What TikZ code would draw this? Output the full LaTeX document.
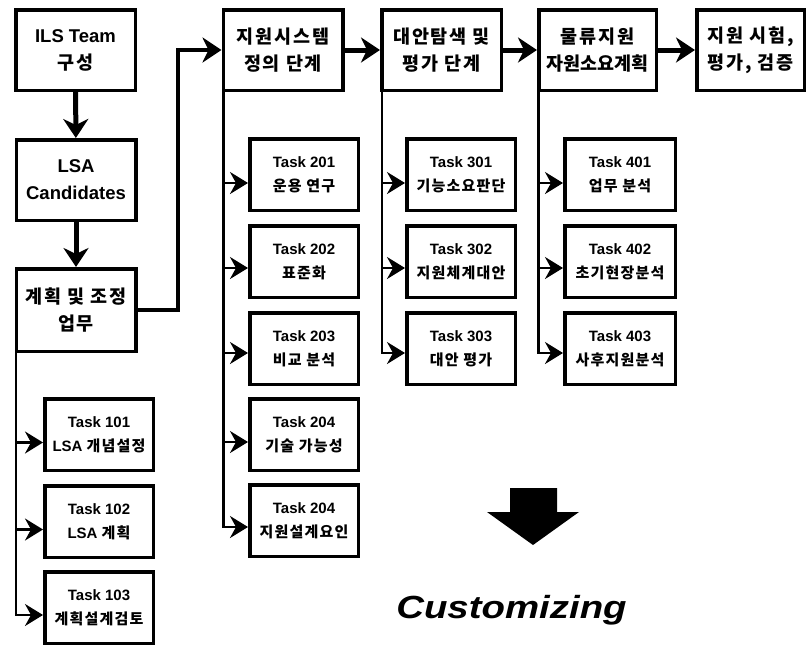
\documentclass[tikz,border=0pt]{standalone}
\usepackage{fontspec}
\setmainfont{Liberation Sans}
\newfontfamily\kr{Noto Sans CJK KR}[LetterSpace=10]
\newfontfamily\krt{Noto Sans CJK KR}[LetterSpace=0]
\newfontfamily\krs{Noto Sans CJK KR}[LetterSpace=8]
\usetikzlibrary{arrows.meta,calc}
\begin{document}
\begin{tikzpicture}[x=1pt,y=-1pt,
  box/.style={draw, line width=3.5pt, minimum width=119.5pt, minimum height=80.5pt, align=center, inner sep=0pt,
    font=\fontsize{18.5}{27}\selectfont\bfseries},
  task/.style={draw, line width=3.5pt, minimum width=108.5pt, minimum height=71.5pt, align=center, inner sep=0pt,
    font=\fontsize{15}{24}\selectfont\bfseries},
  thick arrow/.style={line width=5pt, -{Stealth[length=19pt,width=25pt,inset=6pt]}},
  link/.style={line width=4pt, -{Stealth[length=19pt,width=25pt,inset=6pt]}},
  branch/.style={line width=2.2pt, -{Stealth[length=18pt,width=22pt,inset=6pt]}}
]
\useasboundingbox (0,0) rectangle (807,651);

% top / left boxes
\node[box] (ils) at (75.5,50) {ILS Team\\{\kr 구성}};
\node[box] (lsa) at (76,180) {LSA\\Candidates};
\node[box, minimum height=82.5pt] (plan) at (76,310) {{\kr 계획 및 조정}\\{\kr 업무}};
\node[box] (sys) at (283,50) {{\kr 지원시스템}\\{\kr 정의 단계}};
\node[box] (alt) at (441.5,50) {{\kr 대안탐색 및}\\{\kr 평가 단계}};
\node[box, minimum width=117.5pt] (log) at (597.5,50) {{\kr 물류지원}\\{\krt 자원소요계획}};
\node[box, minimum width=107.5pt] (test) at (750.5,50) {{\kr 지원 시험,}\\{\kr 평가, 검증}};

% main connectors
\draw[thick arrow] (ils) -- (lsa);
\draw[thick arrow] (lsa) -- (plan);
\coordinate (bend1) at (178,310);
\coordinate (bend2) at (178,50);
\draw[link] (plan.east) -- (bend1) -- (bend2) -- (sys.west);
\draw[thick arrow] (sys) -- (alt);
\draw[thick arrow] (alt) -- (log);
\draw[thick arrow] (log) -- (test);

% column 1 tasks
\node[task] (t101) at (99,434.5) {Task 101\\LSA {\krs 개념설정}};
\node[task] (t102) at (99,521.5) {Task 102\\LSA {\krs 계획}};
\node[task] (t103) at (99,607.5) {Task 103\\{\krs 계획설계검토}};
\coordinate (p1) at ($(plan.south west)+(1.5,0)$);
\draw[branch] (p1) |- ($(t101.west)+(0,8)$);
\draw[branch] (p1) |- ($(t102.west)+(0,8)$);
\draw[branch] (p1) |- ($(t103.west)+(0,7.5)$);

% column 2 tasks
\node[task] (t201) at (304,174.5) {Task 201\\{\krs 운용 연구}};
\node[task] (t202) at (304,261.5) {Task 202\\{\krs 표준화}};
\node[task] (t203) at (304,348.5) {Task 203\\{\krs 비교 분석}};
\node[task] (t204) at (304,434.5) {Task 204\\{\krs 기술 가능성}};
\node[task] (t205) at (304,520.5) {Task 204\\{\krs 지원설계요인}};
\coordinate (p2) at ($(sys.south west)+(2,0)$);
\foreach \t/\d in {t201/8.5,t202/6.5,t203/4.5,t204/7.5,t205/6.5}
  \draw[branch] (p2) |- ($(\t.west)+(0,\d)$);

% column 3 tasks
\node[task] (t301) at (461,174.5) {Task 301\\{\krs 기능소요판단}};
\node[task] (t302) at (461,261.5) {Task 302\\{\krs 지원체계대안}};
\node[task] (t303) at (461,348.5) {Task 303\\{\krs 대안 평가}};
\coordinate (p3) at ($(alt.south west)+(2,0)$);
\foreach \t/\d in {t301/8.5,t302/6.5,t303/4.5}
  \draw[branch] (p3) |- ($(\t.west)+(0,\d)$);

% column 4 tasks
\node[task, minimum width=110.5pt] (t401) at (620,174.5) {Task 401\\{\krs 업무 분석}};
\node[task, minimum width=110.5pt] (t402) at (620,261.5) {Task 402\\{\krs 초기현장분석}};
\node[task, minimum width=110.5pt] (t403) at (620,348.5) {Task 403\\{\krs 사후지원분석}};
\coordinate (p4) at ($(log.south west)+(1.5,0)$);
\foreach \t/\d in {t401/8.5,t402/6.5,t403/4.5}
  \draw[branch] (p4) |- ($(\t.west)+(0,\d)$);

% big down arrow
\fill (510,488) -- (557,488) -- (557,512) -- (579,512) -- (533,545) -- (487,512) -- (510,512) -- cycle;

% Customizing
\node[inner sep=0pt, anchor=base, font=\fontsize{32}{32}\selectfont\bfseries\itshape] (cust) at (511.5,618)
  {\scalebox{1.2}[1]{Customizing}};
\end{tikzpicture}
\end{document}
